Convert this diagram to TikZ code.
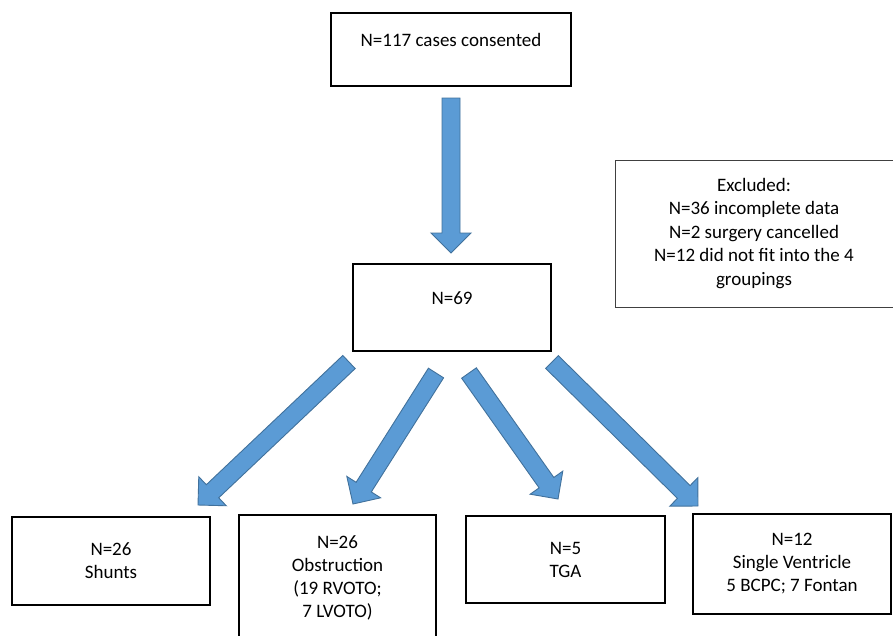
\documentclass[tikz,border=0pt]{standalone}
\usepackage{fontspec}
\setmainfont{Carlito}
\usetikzlibrary{calc}
\tikzset{
  box/.style={draw, line width=2.5pt, align=center, inner sep=0pt, font=\fontsize{19}{23}\selectfont},
  upper/.style={text depth=19pt},
  exclbox/.style={draw=black!75, line width=0.9pt, align=center, inner sep=0pt, font=\fontsize{19}{23.5}\selectfont},
  arrowfill/.style={fill=arrowblue, draw=arrowedge, line width=0.9pt, line join=miter},
}
% block arrow from #1 to #2 (shaft 18, head 40 x 20)
\newcommand\blockarrow[2]{%
  \coordinate (#2-h) at ($(#2)!20pt!(#1)$);
  \draw[arrowfill] ($(#1)!9pt!90:(#2)$) -- ($(#2-h)!9pt!90:(#2)$) -- ($(#2-h)!20pt!90:(#2)$) -- (#2)
    -- ($(#2-h)!20pt!-90:(#2)$) -- ($(#2-h)!9pt!-90:(#2)$) -- ($(#1)!9pt!-90:(#2)$) -- cycle;}
\begin{document}
\begin{tikzpicture}[x=1pt, y=-1pt]
\definecolor{arrowblue}{HTML}{5B9BD5}
\definecolor{arrowedge}{HTML}{41719C}
\useasboundingbox (0,0) rectangle (893,635);
% boxes
\node[box, upper, minimum width=240, minimum height=73] (consented) at (451,49.5) {N=117 cases consented};
\node[box, upper, minimum width=198, minimum height=87] (total) at (452,307.5) {N=69};
\node[exclbox, minimum width=278, minimum height=147] (excluded) at (754,233.5)
  {Excluded:\\N=36 incomplete data\\N=2 surgery cancelled\\N=12 did not fit into the 4\\groupings};
\node[box, minimum width=198, minimum height=88] (shunts) at (111,561) {N=26\\Shunts};
\node[box, minimum width=197, minimum height=125] (obstruction) at (337.5,577.5) {N=26\\Obstruction\\(19 RVOTO;\\7 LVOTO)};
\node[box, minimum width=199, minimum height=87] (tga) at (565.5,559.5) {N=5\\TGA};
\node[box, minimum width=198, minimum height=100] (single) at (792,564) {N=12\\Single Ventricle\\5 BCPC; 7 Fontan};
% arrow ends
\coordinate (from-consented) at (451,98);
\coordinate (to-total) at (451,253);
\coordinate (from-shunts) at (349,362);
\coordinate (to-shunts) at (198,505);
\coordinate (from-obstruction) at (436,373);
\coordinate (to-obstruction) at (353,504);
\coordinate (from-tga) at (469,373);
\coordinate (to-tga) at (558,499);
\coordinate (from-single) at (552,362);
\coordinate (to-single) at (698,506);
% arrows
\blockarrow{from-consented}{to-total}
\blockarrow{from-shunts}{to-shunts}
\blockarrow{from-obstruction}{to-obstruction}
\blockarrow{from-tga}{to-tga}
\blockarrow{from-single}{to-single}
\end{tikzpicture}
\end{document}
